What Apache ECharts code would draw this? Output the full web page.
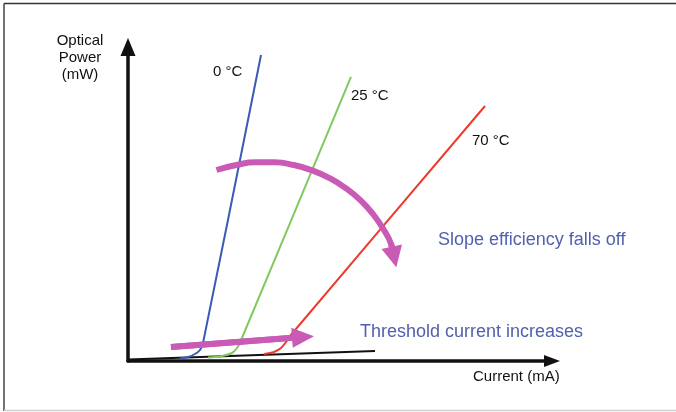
<!DOCTYPE html>
<html>
<head>
<meta charset="utf-8">
<script src="https://cdn.jsdelivr.net/npm/echarts@6/dist/echarts.min.js"></script>
<style>
html,body{margin:0;padding:0;background:#fff;}
#chart{width:676px;height:412px;}
</style>
</head>
<body>
<div id="chart"></div>
<script>
// Data (current in arbitrary mA units 0..100, optical power in arbitrary mW units 0..100)
const curve0C = [[12.26,0.80],[14.15,1.27],[15.80,2.23],[16.98,3.50],[17.69,5.73],[31.37,97.45]];
const curve25C = [[18.87,1.11],[22.17,1.59],[24.53,2.55],[25.71,4.14],[26.58,6.37],[52.59,90.45]];
const curve70C = [[32.08,2.23],[34.43,2.87],[36.08,4.14],[37.26,6.05],[38.21,7.96],[84.20,81.21]];
const spontaneousLine = [[0,0.48],[58.25,3.18]];
const thresholdArrow = [[10.14,4.46],[41.27,7.64]];
const slopeArrow = [[20.87,60.83],[25.54,62.42],[30.05,63.28],[34.58,63.28],[39.08,62.42],[43.44,60.73],
  [47.59,58.22],[51.44,54.97],[54.93,51.05],[57.95,46.50],[60.50,41.40],[62.05,37.29],[62.74,33.12]];
const curveLabels = ['0 °C','25 °C','70 °C'];
const yTitle = 'Optical\nPower\n(mW)';
const xTitle = 'Current (mA)';
const noteSlope = 'Slope efficiency falls off';
const noteThreshold = 'Threshold current increases';

const FONT = '"Liberation Sans", Arial, Helvetica, sans-serif';
const MAGENTA = '#c95ab5';
const NOTE = '#5161ad';

function arrowMark(pts, size){
  const a = pts[pts.length-2], b = pts[pts.length-1];
  return {
    silent: true, animation: false,
    symbol: ['none','triangle'], symbolSize: size,
    label: {show:false},
    lineStyle: {color: MAGENTA, width: 6, type:'solid'},
    emphasis: {disabled:true},
    data: [[{coord: a}, {coord: b}]]
  };
}

const chart = echarts.init(document.getElementById('chart'), null, {renderer:'canvas'});
chart.setOption({
  animation: false,
  backgroundColor: '#fff',
  grid: {left:128, right:124, top:47, bottom:51},
  xAxis: {
    type:'value', min:0, max:100,
    axisLine:{show:true, onZero:false, symbol:['none','triangle'], symbolSize:[12,16], lineStyle:{color:'#111', width:3.5}},
    axisTick:{show:false}, axisLabel:{show:false}, splitLine:{show:false}
  },
  yAxis: {
    type:'value', min:0, max:100,
    axisLine:{show:true, onZero:false, symbol:['none','triangle'], symbolSize:[15,18], lineStyle:{color:'#111', width:3.5}},
    axisTick:{show:false}, axisLabel:{show:false}, splitLine:{show:false}
  },
  series: [
    {type:'line', data: spontaneousLine, showSymbol:false, silent:true, lineStyle:{color:'#111', width:2.2}},
    {type:'line', data: curve0C, smooth:0.3, showSymbol:false, silent:true, lineStyle:{color:'#3a5bb6', width:2}},
    {type:'line', data: curve25C, smooth:0.3, showSymbol:false, silent:true, lineStyle:{color:'#80c95f', width:2}},
    {type:'line', data: curve70C, smooth:0.3, showSymbol:false, silent:true, lineStyle:{color:'#ee3a2c', width:2}},
    {type:'line', data: thresholdArrow, showSymbol:false, silent:true, lineStyle:{color:MAGENTA, width:6},
      markLine: arrowMark(thresholdArrow, [20,22])},
    {type:'line', data: slopeArrow, smooth:true, showSymbol:false, silent:true, lineStyle:{color:MAGENTA, width:6, cap:'butt'},
      markLine: arrowMark(slopeArrow, [21,21])}
  ],
  graphic: [
    {type:'line', shape:{x1:4,y1:3.5,x2:676,y2:3.5}, style:{stroke:'#333', lineWidth:1.5}, silent:true},
    {type:'line', shape:{x1:4,y1:3.5,x2:4,y2:411}, style:{stroke:'#444', lineWidth:1.5}, silent:true},
    {type:'line', shape:{x1:4,y1:410.5,x2:676,y2:410.5}, style:{stroke:'#cfcfcf', lineWidth:1.5}, silent:true},
    {type:'text', x:80, y:58, style:{text:yTitle, font:'15px '+FONT, lineHeight:17, fill:'#111', align:'center', verticalAlign:'middle'}},
    {type:'text', x:473, y:377, style:{text:xTitle, font:'15px '+FONT, fill:'#111', align:'left', verticalAlign:'middle'}},
    {type:'text', x:213, y:72, style:{text:curveLabels[0], font:'15px '+FONT, fill:'#111', align:'left', verticalAlign:'middle'}},
    {type:'text', x:351, y:96, style:{text:curveLabels[1], font:'15px '+FONT, fill:'#111', align:'left', verticalAlign:'middle'}},
    {type:'text', x:472, y:141, style:{text:curveLabels[2], font:'15px '+FONT, fill:'#111', align:'left', verticalAlign:'middle'}},
    {type:'text', x:438, y:240, style:{text:noteSlope, font:'18px '+FONT, fill:NOTE, align:'left', verticalAlign:'middle'}},
    {type:'text', x:360, y:332, style:{text:noteThreshold, font:'18px '+FONT, fill:NOTE, align:'left', verticalAlign:'middle'}}
  ]
});
</script>
</body>
</html>
